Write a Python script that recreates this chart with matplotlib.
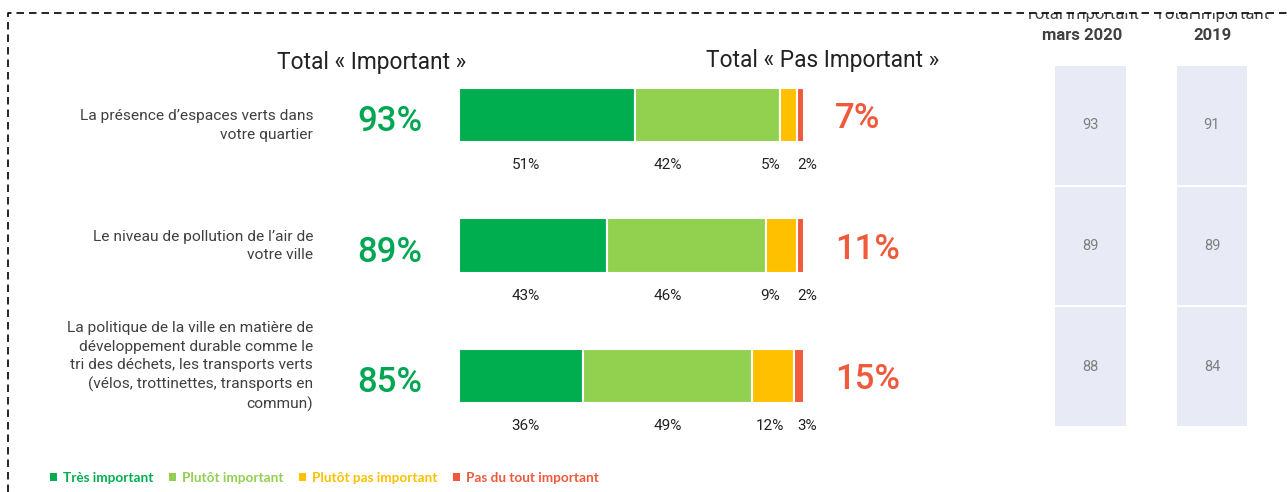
import matplotlib.pyplot as plt
from matplotlib import transforms
from matplotlib.patches import Patch, Rectangle
from matplotlib.lines import Line2D

plt.rcParams['font.family'] = ['Roboto', 'DejaVu Sans']

questions = [
    "La présence d’espaces verts dans\nvotre quartier",
    "Le niveau de pollution de l’air de\nvotre ville",
    "La politique de la ville en matière de\ndéveloppement durable comme le\n"
    "tri des déchets, les transports verts\n(vélos, trottinettes, transports en\ncommun)",
]
series_names = ["Très important", "Plutôt important", "Plutôt pas important", "Pas du tout important"]
tres_important = [51, 43, 36]
plutot_important = [42, 46, 49]
plutot_pas_important = [5, 9, 12]
pas_du_tout_important = [2, 2, 3]
total_important = [93, 89, 85]
total_pas_important = [7, 11, 15]
table_headers = ["mars 2020", "2019"]
total_mars_2020 = [93, 89, 88]
total_2019 = [91, 89, 84]

colors = ["#00ae4f", "#92d050", "#ffc000", "#f05a3c"]
text_dark = "#404040"

W, H = 1287, 492
fig = plt.figure(figsize=(W / 100, H / 100), dpi=100)


def fx(x):
    return x / W


def fy(y):
    return 1 - y / H


# main axes over the whole figure: a 100 % bar is 345 px wide, starting at x=459
scale = 3.45
row_px = 130.5
ax = fig.add_axes([0, 0, 1, 1])
ax.set_xlim(-459 / scale, (W - 459) / scale)
ax.set_ylim((H - 115) / row_px, -115 / row_px)
ax.axis('off')

# right-hand table axes
ax2 = fig.add_axes([fx(1029.75), fy(427), (1272.75 - 1029.75) / W, (427 - 65) / H])
ax2.set_xlim(-0.5, 1.5)
ax2.set_ylim(2.5, -0.5)
ax2.axis('off')

rows = list(range(len(questions)))
series = [tres_important, plutot_important, plutot_pas_important, pas_du_tout_important]
left = [0] * len(rows)
for vals, c in zip(series, colors):
    ax.barh(rows, vals, left=left, height=0.42, color=c, edgecolor='white', linewidth=1.5)
    left = [l + v for l, v in zip(left, vals)]

# segment labels sit in fixed columns under the bars
label_cols = [19.3, 60.5, 90.2, 100.8]
lab_dy = 0.385
for i in rows:
    for k, col in enumerate(label_cols):
        ax.text(col, i + lab_dy, f"{series[k][i]}%", ha='center', va='center',
                fontsize=11, color='#222222')

    # big totals
    ax.text(-20, i + 0.05, f"{total_important[i]}%", ha='center', va='center',
            fontsize=25, fontweight='medium', color='#00a651')
    ax.text(109, i + 0.03, f"{total_pas_important[i]}%", ha='left', va='center',
            fontsize=25, fontweight='medium', color='#f05a3c')

# question labels, aligned with the table rows
lab_tr = transforms.blended_transform_factory(ax.transData, ax2.transData)
for i, q in enumerate(questions):
    ax.text(-42.3, i, q, transform=lab_tr, ha='right', va='center', fontsize=11.15,
            color=text_dark, linespacing=1.4)

fig.text(fx(372), fy(62), "Total « Important »", ha='center', va='center', fontsize=16.4, color='#222222')
fig.text(fx(823), fy(60), "Total « Pas Important »", ha='center', va='center', fontsize=16.4, color='#222222')

# table of previous totals
for col, vals in enumerate([total_mars_2020, total_2019]):
    ax2.bar([col] * len(rows), [1] * len(rows), bottom=[r - 0.5 for r in rows], width=0.6,
            color='#e8ebf5', edgecolor='white', linewidth=1.5)
    for r, v in zip(rows, vals):
        ax2.text(col, r, str(v), ha='center', va='center', fontsize=10.5, color='#7f7f7f')

# headers: the first column's header sits a little left of its cells
head_tr = transforms.blended_transform_factory(ax2.transData, fig.transFigure)
head_shift = [-0.07, 0.0]
for col, h in enumerate(table_headers):
    ax2.text(col + head_shift[col], fy(19.5), "Total important", transform=head_tr,
             ha='center', va='baseline', fontsize=12, color=text_dark)
    ax2.text(col + head_shift[col], fy(40.5), h, transform=head_tr,
             ha='center', va='baseline', fontsize=12, fontweight='bold', color=text_dark)

# white strip hides the top of the header, then the dashed frame
fig.patches.append(Rectangle((0, fy(12.7)), 1, 1 - fy(12.7), transform=fig.transFigure,
                             facecolor='white', edgecolor='none', zorder=5))
fig.lines.append(Line2D([fx(8), fx(8), 1.0], [0.0, fy(12.5), fy(12.5)], transform=fig.transFigure,
                        color='black', linewidth=1.2, dashes=(4.5, 3), zorder=6))

# legend
handles = [Patch(facecolor=c, edgecolor='none') for c in colors]
leg = fig.legend(handles, series_names, ncol=4, loc='center left',
                 bbox_to_anchor=(fx(43), fy(478)), frameon=False, borderpad=0,
                 handlelength=0.5, handleheight=0.5, handletextpad=0.45, columnspacing=1.15,
                 prop={'family': 'Lato', 'weight': 'bold', 'size': 9.8})
for t, c in zip(leg.get_texts(), colors):
    t.set_color(c)

fig.savefig('out.png', dpi=100, facecolor='white')
